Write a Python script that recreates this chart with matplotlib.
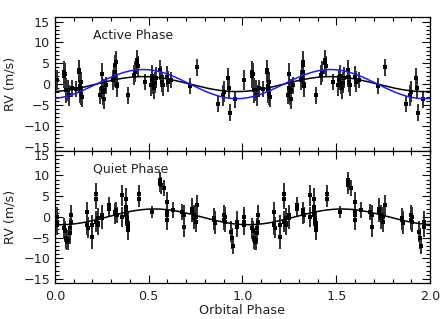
###############################################################################
### RADIAL VELOCITY VS ORBITAL PHASE (ACTIVE / QUIET)
###############################################################################

import numpy as np
import matplotlib
matplotlib.use('Agg')
import matplotlib.pyplot as plt
from matplotlib.ticker import MultipleLocator


#------------------------------------------------------------------------------
### Data (one orbital cycle, plotted twice)

# Active phase
phase_active = [0.01, 0.05, 0.05, 0.055, 0.06, 0.07, 0.075, 0.09, 0.11,
	0.13, 0.13, 0.135, 0.135, 0.14, 0.14, 0.145, 0.24, 0.25, 0.25, 0.255,
	0.26, 0.26, 0.27, 0.31, 0.315, 0.32, 0.32, 0.325, 0.33, 0.33, 0.39,
	0.42, 0.425, 0.44, 0.44, 0.445, 0.48, 0.51, 0.515, 0.52, 0.525, 0.53,
	0.535, 0.54, 0.56, 0.565, 0.57, 0.575, 0.60, 0.605, 0.62, 0.72, 0.76,
	0.87, 0.895, 0.90, 0.925, 0.93, 0.935, 0.96]
rv_active = [1.0, 3.0, 2.0, 2.5, -1.5, -1.5, -2.7, -1.0, -1.2,
	3.3, 2.8, -0.5, -1.5, 0.5, -2.5, -3.0, -2.7, 2.5, -1.0, -2.0,
	-3.5, -1.3, -0.3, 1.0, 1.8, 3.0, 4.6, 5.4, 0.0, -0.5, -2.7,
	2.2, 3.0, 5.0, 5.8, 4.3, 0.5, -0.3, 1.0, 2.0, 0.0, -1.0,
	0.3, 1.5, 3.4, 1.8, 0.5, -0.3, 1.8, 0.6, 1.0, -0.5, 4.0,
	-4.8, -2.7, -1.8, 1.4, -1.0, -6.9, -3.7]
err_active = [2.5, 2.5, 3.0, 2.5, 3.0, 2.5, 2.5, 2.0, 2.0,
	2.5, 2.5, 2.5, 3.0, 2.5, 2.5, 2.5, 2.0, 2.5, 2.5, 3.0,
	2.5, 2.5, 2.0, 2.5, 2.5, 2.5, 2.5, 2.5, 2.5, 2.5, 2.0,
	2.5, 2.5, 2.5, 2.5, 2.5, 2.0, 2.5, 2.5, 2.5, 2.5, 2.5,
	2.5, 2.5, 2.5, 2.5, 2.5, 2.5, 2.5, 2.5, 2.0, 2.0, 2.0,
	2.0, 2.5, 2.5, 2.5, 2.5, 2.0, 2.0]

# Quiet phase
phase_quiet = [0.01, 0.01, 0.01, 0.05, 0.055, 0.06, 0.065, 0.07, 0.08,
	0.08, 0.085, 0.085, 0.17, 0.17, 0.175, 0.20, 0.20, 0.22, 0.22, 0.22,
	0.23, 0.23, 0.23, 0.25, 0.25, 0.29, 0.29, 0.32, 0.32, 0.325, 0.33,
	0.36, 0.36, 0.38, 0.38, 0.38, 0.38, 0.385, 0.385, 0.39, 0.39, 0.39,
	0.45, 0.45, 0.52, 0.56, 0.56, 0.565, 0.58, 0.60, 0.60, 0.60, 0.60,
	0.63, 0.68, 0.69, 0.69, 0.73, 0.73, 0.74, 0.74, 0.75, 0.75, 0.76,
	0.85, 0.85, 0.855, 0.855, 0.90, 0.90, 0.905, 0.905, 0.94, 0.945,
	0.95, 0.97, 0.97]
rv_quiet = [0.0, -1.2, -2.0, -2.8, -3.5, -5.2, -6.0, -5.6, -4.0,
	-2.8, -1.2, 0.4, 1.2, -2.0, -2.6, -2.0, -4.8, 5.6, 4.4, -1.2,
	-1.6, -2.0, -0.4, -0.4, 0.4, 2.8, 2.0, 1.2, 0.8, 1.6, 0.4,
	5.2, 0.0, 4.4, 2.4, 1.6, 0.4, -0.4, -1.2, -1.6, -2.4, -3.2,
	5.6, 4.4, 1.2, 8.8, 8.0, 7.6, 7.0, 3.6, 1.2, 0.4, -0.8,
	1.6, 1.2, 0.4, -2.4, 2.0, 1.2, 0.4, -0.4, 0.0, -1.2, 2.8,
	-0.4, -0.8, -1.6, -1.2, 0.4, -0.8, -1.2, 0.0, -3.6, -5.2,
	-7.0, -1.2, -2.4]
err_quiet = [2.5, 2.5, 2.5, 2.5, 2.5, 2.5, 2.0, 2.5, 2.5,
	2.5, 2.5, 2.5, 2.5, 2.5, 2.5, 2.5, 3.0, 2.5, 2.5, 2.5,
	2.5, 2.5, 2.5, 2.5, 2.5, 2.0, 2.0, 2.0, 2.5, 2.0, 2.0,
	2.5, 2.5, 2.5, 2.5, 2.5, 2.5, 2.5, 2.5, 3.0, 2.5, 2.5,
	2.0, 2.0, 1.5, 2.0, 2.0, 2.0, 2.0, 2.5, 2.5, 2.5, 2.5,
	2.0, 2.0, 2.5, 2.5, 2.5, 2.5, 2.5, 2.5, 2.5, 2.5, 2.5,
	2.5, 2.5, 2.5, 2.5, 2.5, 2.5, 2.5, 2.5, 2.5, 2.5,
	2.0, 2.5, 2.5]

# Fitted orbit curves: (semi-amplitude K, phase of upward zero crossing)
CURVES_ACTIVE = [(1.8, 0.22, 'black'), (3.5, 0.22, '#1a1aff')]
CURVES_QUIET = [(1.9, 0.28, 'black')]

PANEL_TITLES = ['Active Phase', 'Quiet Phase']


#------------------------------------------------------------------------------
### Style

plt.rcParams['font.family'] = ['DejaVu Sans']
TICK_FONTSIZE = 9.2
LABEL_FONTSIZE = 9.2
TITLE_FONTSIZE = 9
TEXT_COLOR = '#222222'

# Axes rectangles in figure fractions
LEFT = 0.123
WIDTH = 0.839
AX_TOP = [LEFT, 0.5276, WIDTH, 0.4176]
AX_BOT = [LEFT, 0.1129, WIDTH, 0.4147]


#------------------------------------------------------------------------------
### Function to draw one panel

def draw_panel(ax, phase, rv, err, curves, title):

	phase = np.asarray(phase)
	# Plot the cycle twice (phase and phase + 1)
	for shift in (0.0, 1.0):
		ax.errorbar(phase + shift, rv, yerr=err, fmt='s', ms=2.6, mew=0,
			color='black', ecolor='#303030', elinewidth=1.4, capsize=0,
			zorder=3)

	xx = np.linspace(0, 2, 400)
	for k, phi0, col in curves:
		ax.plot(xx, k*np.sin(2*np.pi*(xx - phi0)), color=col, lw=1.1,
			zorder=4)

	ax.set_xlim(0, 2)
	ax.set_ylim(-16, 16)
	ax.xaxis.set_major_locator(MultipleLocator(0.5))
	ax.xaxis.set_minor_locator(MultipleLocator(0.1))
	ax.yaxis.set_major_locator(MultipleLocator(5))
	ax.yaxis.set_minor_locator(MultipleLocator(1))
	ax.tick_params(which='both', direction='in', top=True, right=True,
		labelsize=TICK_FONTSIZE, labelcolor=TEXT_COLOR)
	ax.tick_params(which='major', length=6, width=0.8)
	ax.tick_params(which='minor', length=3, width=0.8)
	ax.tick_params(axis='x', pad=5)
	for sp in ax.spines.values():
		sp.set_linewidth(0.9)

	ax.set_ylabel('RV (m/s)', fontsize=LABEL_FONTSIZE, labelpad=5,
		color=TEXT_COLOR)
	ax.text(0.101, 0.865, title, transform=ax.transAxes,
		fontsize=TITLE_FONTSIZE, va='center', ha='left', color=TEXT_COLOR)


#------------------------------------------------------------------------------
### Build figure

fig = plt.figure(figsize=(4.47, 3.19), dpi=100)
ax1 = fig.add_axes(AX_TOP)
ax2 = fig.add_axes(AX_BOT)

draw_panel(ax1, phase_active, rv_active, err_active, CURVES_ACTIVE,
	PANEL_TITLES[0])
draw_panel(ax2, phase_quiet, rv_quiet, err_quiet, CURVES_QUIET,
	PANEL_TITLES[1])

ax1.tick_params(labelbottom=False)
ax2.set_xlabel('Orbital Phase', fontsize=LABEL_FONTSIZE, labelpad=1,
	color=TEXT_COLOR)

fig.savefig('out.png', dpi=100)
plt.close()
